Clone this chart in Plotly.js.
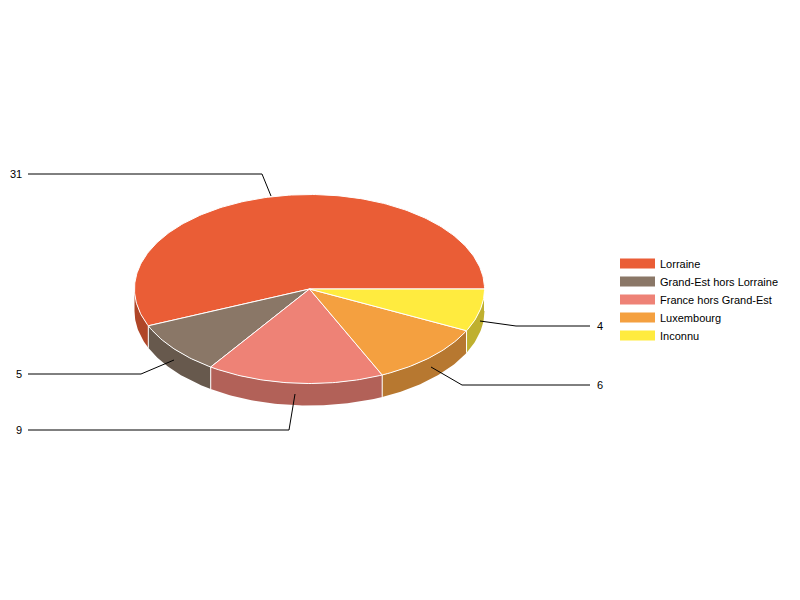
<!DOCTYPE html>
<html><head><meta charset="utf-8">
<script src="https://cdn.plot.ly/plotly-3.0.1.min.js"></script>
<style>html,body{margin:0;padding:0;background:#fff}#chart{opacity:.999}</style>
</head><body><div id="chart" style="width:800px;height:600px"></div>
<script>
const categories = ["Lorraine","Grand-Est hors Lorraine","France hors Grand-Est","Luxembourg","Inconnu"];
const values = [31,5,9,6,4];
const topColors = ["#EA5D36","#8A7767","#EE8276","#F4A040","#FFEB3F"];
const wallColors = ["#AF4628","#67594D","#B26158","#B77830","#BFB02F"];
// leader lines, drawing units: [label side, elbow, pie side]
const leaderX = [[28,262,271],[28,141,174],[28,289,295],[590,462,431],[590,516,480]];
const leaderY = [[174,174,196],[374,374,360],[430,430,394],[385,385,367],[326,326,321]];
const labelX = [24,24,24,595,595];
const labelAnchor = ["right","right","right","left","left"];

const cx=309.5, cy=289, rx=175, ry=94.5, depth=22;
const total = values.reduce((a,b)=>a+b,0);
const pt=(deg,dy=0)=>[cx+rx*Math.cos(deg*Math.PI/180), cy+dy+ry*Math.sin(deg*Math.PI/180)];
function arc(a0,a1,dy){const n=Math.max(2,Math.ceil(Math.abs(a1-a0)/1));const o=[];for(let i=0;i<=n;i++)o.push(pt(a0+(a1-a0)*i/n,dy));return o;}
const traces=[];
// angles run clockwise on screen, first category ends at 360° and the rest walk back to 0°
let end=360; const spans=values.map(v=>{const a1=end,a0=end-v/total*360;end=a0;return [a0,a1];});
// side walls
spans.forEach((s,i)=>{
  const a0=Math.max(s[0],0), a1=Math.min(s[1],180);
  if(a1<=a0) return;
  const p=[...arc(a0,a1,0),...arc(a1,a0,depth)];
  p.push(p[0]);
  traces.push({type:"scatter",mode:"lines",x:p.map(q=>q[0]),y:p.map(q=>q[1]),fill:"toself",fillcolor:wallColors[i],line:{width:0,color:wallColors[i]},showlegend:false});
});
// wall dividers
spans.forEach(s=>{
  if(s[0]<=0||s[0]>=180) return;
  const a=pt(s[0]),b=pt(s[0],depth);
  traces.push({type:"scatter",mode:"lines",x:[a[0],b[0]],y:[a[1],b[1]],line:{width:1,color:"#fff"},showlegend:false});
});
// tops
spans.forEach((s,i)=>{
  const p=[[cx,cy],...arc(s[0],s[1],0),[cx,cy]];
  traces.push({type:"scatter",mode:"lines",name:categories[i],x:p.map(q=>q[0]),y:p.map(q=>q[1]),fill:"toself",fillcolor:topColors[i],line:{width:1,color:"#fff"},showlegend:false});
});
// legend entries, one legend box per row to hold the 18 px row pitch
const legendBoxes={};
categories.forEach((c,i)=>{
  const id=i===0?"legend":"legend"+(i+1);
  legendBoxes[id]={x:615/800,y:1-(249+18*i)/600,xanchor:"left",yanchor:"top",itemwidth:35,bgcolor:"rgba(0,0,0,0)",borderwidth:0,font:{size:11}};
  traces.push({type:"scatter",mode:"lines",name:c,x:[null],y:[null],line:{width:11,color:topColors[i]},showlegend:true,legend:id});
});
// leaders
leaderX.forEach((xs,i)=>{
  traces.push({type:"scatter",mode:"lines",x:xs,y:leaderY[i],line:{width:1,color:"#000"},showlegend:false});
});
const annotations=values.map((v,i)=>({xref:"x",yref:"y",x:labelX[i],y:leaderY[i][0],text:String(v),showarrow:false,xanchor:labelAnchor[i],yanchor:"middle",font:{size:11,color:"#000"}}));
const layout=Object.assign({width:800,height:600,margin:{l:0,r:0,t:0,b:0},paper_bgcolor:"#fff",plot_bgcolor:"#fff",
 font:{family:"Liberation Sans, Arial, sans-serif",size:11,color:"#000"},hovermode:false,
 xaxis:{range:[0,800],visible:false,fixedrange:true},
 yaxis:{range:[600,0],visible:false,fixedrange:true},
 showlegend:true,annotations},legendBoxes);
Plotly.newPlot("chart",traces,layout,{displayModeBar:false});
</script></body></html>
